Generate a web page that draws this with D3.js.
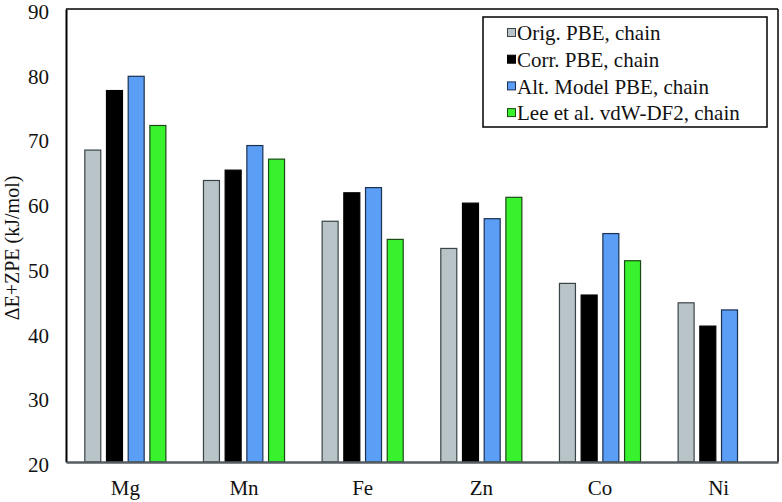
<!DOCTYPE html>
<html><head><meta charset="utf-8">
<script src="https://cdn.jsdelivr.net/npm/d3@7"></script>
<style>body{margin:0;background:#fff}svg{display:block}svg text{font-family:"Liberation Serif","Times New Roman","DejaVu Serif",serif !important}</style>
</head><body><svg id="c" width="782" height="502"></svg>
<script>
const categories = ["Mg","Mn","Fe","Zn","Co","Ni"];
const seriesNames = ["Orig. PBE, chain","Corr. PBE, chain","Alt. Model PBE, chain","Lee et al. vdW-DF2, chain"];
const origPBE = [68.2, 63.5, 57.2, 53.0, 47.6, 44.6];
const corrPBE = [77.4, 65.1, 61.6, 60.0, 45.8, 41.0];
const altPBE  = [79.6, 68.9, 62.4, 57.6, 55.3, 43.5];
const leeVdW  = [72.0, 66.8, 54.4, 60.9, 51.1, null];
const yTicks = [20,30,40,50,60,70,80,90];
const colors = ["#b9c4c8","#000000","#5a9ef6","#39f22e"];
const strokes = ["#3a4448","#000000","#1d3050","#1a4a14"];

const seriesVals = [origPBE, corrPBE, altPBE, leeVdW];
const svg = d3.select("#c");
const m = {l:66, t:9, r:778, b:462};
const FONT = '"Liberation Serif","Times New Roman","DejaVu Serif",serif';

const x0 = d3.scaleBand().domain(categories).range([m.l, m.r]).paddingInner(0).paddingOuter(0);
const x1 = d3.scaleBand().domain(d3.range(4)).range([0, x0.bandwidth()]).paddingInner(0.217).paddingOuter(0.843);
const y = d3.scaleLinear().domain([20, 90]).range([m.b, m.t]);

// bars
categories.forEach((c, i) => {
  seriesVals.forEach((arr, s) => {
    const v = arr[i];
    if (v == null) return;
    svg.append("rect")
      .attr("x", x0(c) + x1(s) + 0.5)
      .attr("y", y(v))
      .attr("width", x1.bandwidth() - 1)
      .attr("height", y(20) - y(v))
      .attr("fill", colors[s])
      .attr("stroke", strokes[s])
      .attr("stroke-width", 1.2);
  });
});

// frame
svg.append("line").attr("x1", m.l).attr("x2", m.r).attr("y1", m.t).attr("y2", m.t).attr("stroke","#000").attr("stroke-width",1.5);
svg.append("line").attr("x1", m.r).attr("x2", m.r).attr("y1", m.t).attr("y2", m.b).attr("stroke","#000").attr("stroke-width",1.5);

// y axis
const yAxis = d3.axisLeft(y).tickValues(yTicks).tickSize(0).tickPadding(17).tickFormat(d3.format("d"));
const gy = svg.append("g").attr("transform", `translate(${m.l},0)`).call(yAxis).attr("font-family", FONT);
gy.select(".domain").attr("stroke","#000").attr("stroke-width",2);
gy.selectAll("text").attr("font-size", 21).attr("fill","#111").attr("dy","0.45em");

// x axis
const xAxis = d3.axisBottom(x0).tickSize(0).tickPadding(18);
const gx = svg.append("g").attr("transform", `translate(0,${m.b})`).call(xAxis).attr("font-family", FONT);
gx.select(".domain").attr("stroke","#555d60").attr("stroke-width",2.5);
gx.selectAll("text").attr("font-size", 21).attr("fill","#111");

// y title
svg.append("text")
  .attr("transform", `translate(19,248) rotate(-90)`)
  .attr("text-anchor","middle")
  .attr("font-size", 20)
  .attr("fill","#111")
  .text("ΔE+ZPE (kJ/mol)");

// legend
const lg = svg.append("g");
lg.append("rect").attr("x", 483).attr("y", 17).attr("width", 284).attr("height", 110)
  .attr("fill","#fff").attr("stroke","#000").attr("stroke-width",1.5);
seriesNames.forEach((n, s) => {
  const cy = 33 + s*26.7;
  lg.append("rect").attr("x", 507.5).attr("y", cy - 4.5).attr("width", 8).attr("height", 8)
    .attr("fill", colors[s]).attr("stroke", strokes[s]).attr("stroke-width", 1);
  lg.append("text").attr("x", 517).attr("y", cy).attr("dy","0.35em")
    .attr("font-size", 21).attr("fill","#111").text(n);
});
</script></body></html>
